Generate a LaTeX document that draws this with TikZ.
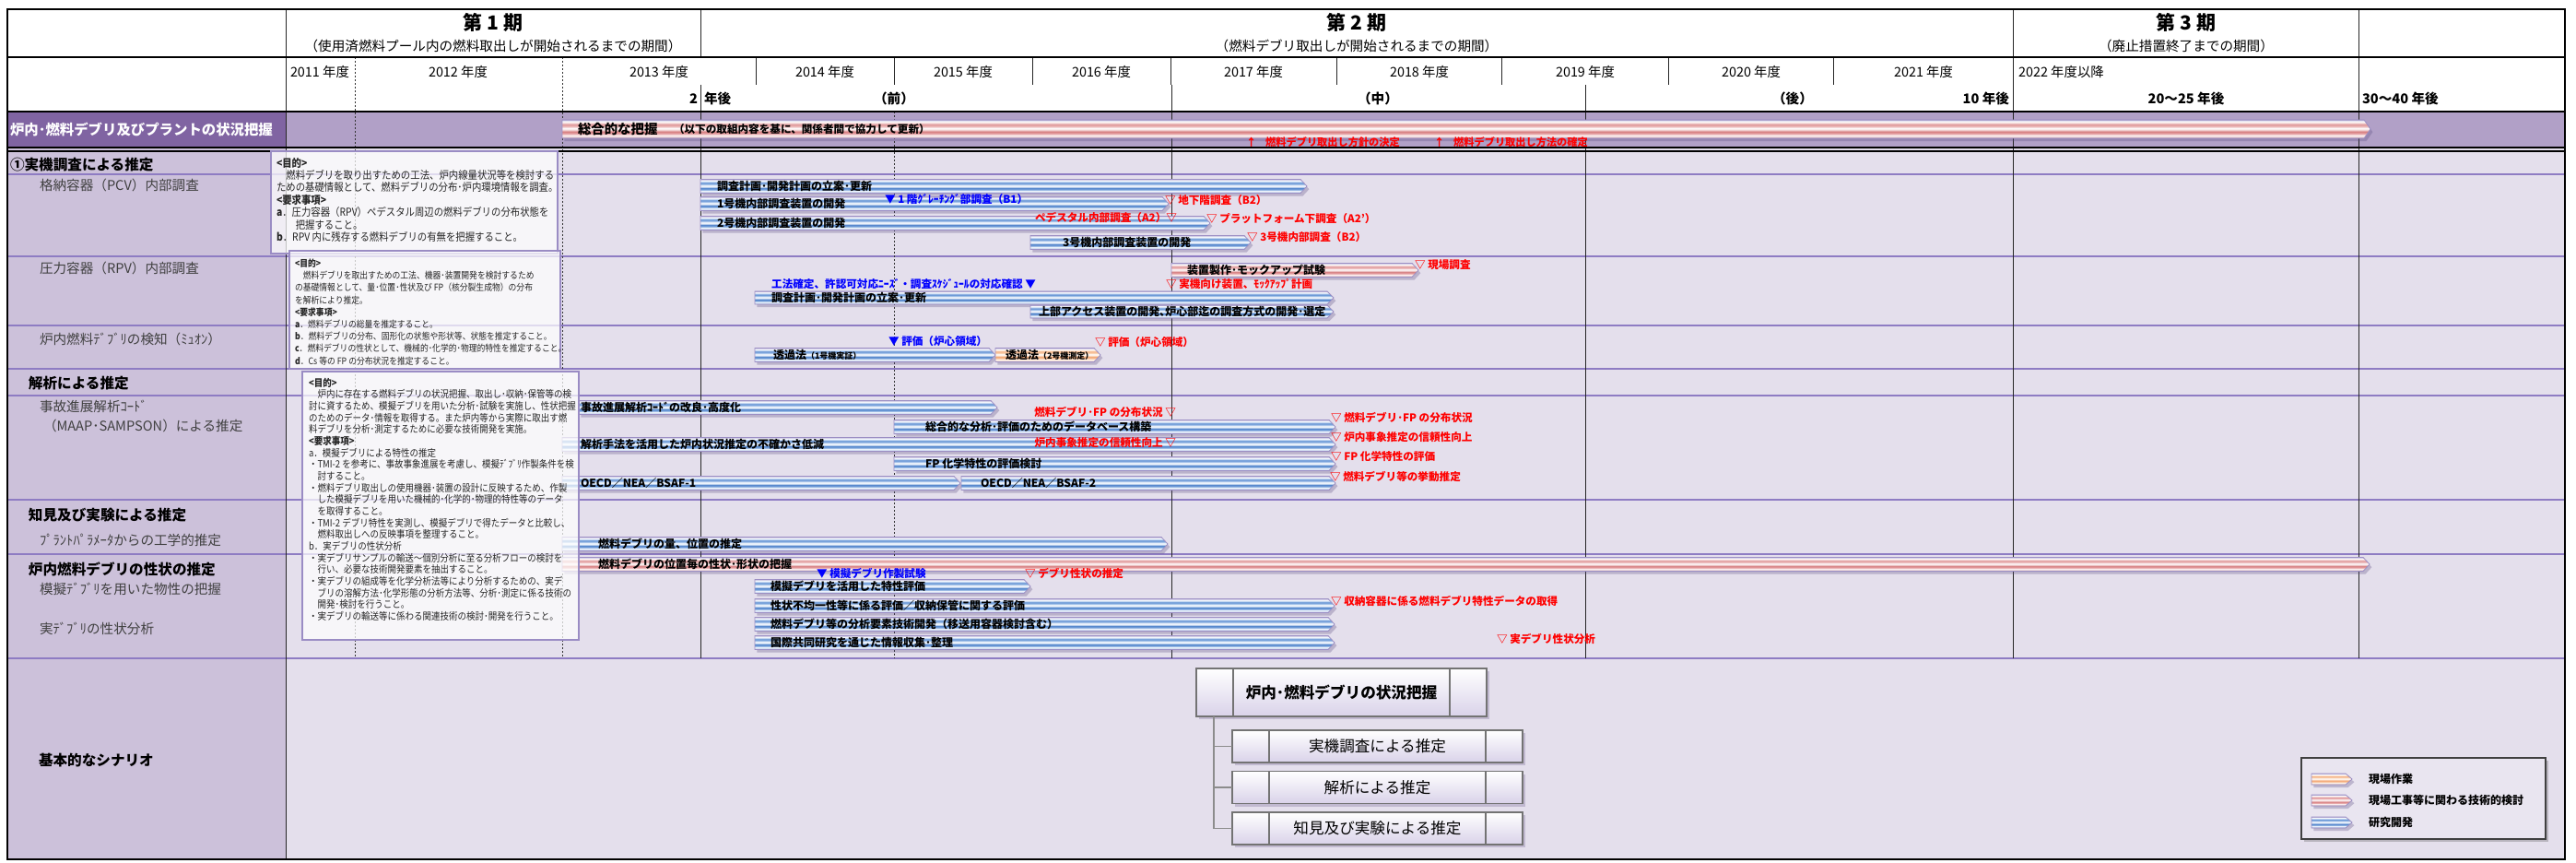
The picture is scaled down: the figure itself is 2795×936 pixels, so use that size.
\documentclass[tikz,border=0pt]{standalone}
\usepackage{fontspec}
\setmainfont{Noto Sans CJK JP}
\newfontfamily\cond{Noto Sans CJK JP}[FakeStretch=0.88]
\usetikzlibrary{shadows}

\definecolor{bandL}{HTML}{8064A2}
\definecolor{bandR}{HTML}{B1A0C7}
\definecolor{leftcol}{HTML}{CCC1DA}
\definecolor{bodybg}{HTML}{E4DFEC}
\definecolor{rowline}{HTML}{8E7CC3}
\definecolor{boxline}{HTML}{9A8CC4}
\definecolor{anred}{HTML}{FF0000}
\definecolor{anblue}{HTML}{0000FF}
\definecolor{barline}{HTML}{9C8FC4}
\definecolor{shadowc}{HTML}{5A4A80}
\definecolor{subgray}{HTML}{404040}
\definecolor{scbot}{HTML}{D9D2E9}
\definecolor{legbg}{HTML}{E9E5F0}
% blue
\definecolor{bA}{HTML}{8E86BE}
\definecolor{bB}{HTML}{BFCDEB}
\definecolor{bC}{HTML}{F4F8FD}
\definecolor{bD}{HTML}{7FA7DC}
\definecolor{bE}{HTML}{4F82CA}
\definecolor{bF}{HTML}{D7E4F6}
\definecolor{bG}{HTML}{FFFFFF}
\definecolor{bH}{HTML}{A2C0E8}
\definecolor{bI}{HTML}{5F90D3}
\definecolor{bJ}{HTML}{CADBF2}
\definecolor{bK}{HTML}{B5AED6}
% pink
\definecolor{pB}{HTML}{E9C9CC}
\definecolor{pC}{HTML}{FBF2F2}
\definecolor{pD}{HTML}{E6A2A4}
\definecolor{pE}{HTML}{D68082}
\definecolor{pF}{HTML}{F3D7D8}
\definecolor{pH}{HTML}{EDBDBE}
\definecolor{pI}{HTML}{DF9698}
\definecolor{pJ}{HTML}{F4DCDC}
% orange
\definecolor{oB}{HTML}{F2D6C6}
\definecolor{oC}{HTML}{FEF6F0}
\definecolor{oD}{HTML}{F7C29C}
\definecolor{oE}{HTML}{F2A674}
\definecolor{oF}{HTML}{FCE3D0}
\definecolor{oH}{HTML}{F8CFAF}
\definecolor{oI}{HTML}{F4B183}
\definecolor{oJ}{HTML}{FDE9DA}

\pgfdeclareverticalshading{bluebar}{100bp}{color(0bp)=(bA); color(25bp)=(bA); color(28bp)=(bB); color(33bp)=(bC); color(38bp)=(bD); color(43bp)=(bE); color(48bp)=(bF); color(52bp)=(bG); color(57bp)=(bH); color(62bp)=(bI); color(67bp)=(bJ); color(71bp)=(bG); color(75bp)=(bK); color(100bp)=(bK)}
\pgfdeclareverticalshading{pinkbar}{100bp}{color(0bp)=(bA); color(25bp)=(bA); color(28bp)=(pB); color(33bp)=(pC); color(38bp)=(pD); color(43bp)=(pE); color(48bp)=(pF); color(52bp)=(bG); color(57bp)=(pH); color(62bp)=(pI); color(67bp)=(pJ); color(71bp)=(bG); color(75bp)=(bK); color(100bp)=(bK)}
\pgfdeclareverticalshading{orangebar}{100bp}{color(0bp)=(bA); color(25bp)=(bA); color(28bp)=(oB); color(33bp)=(oC); color(38bp)=(oD); color(43bp)=(oE); color(48bp)=(oF); color(52bp)=(bG); color(57bp)=(oH); color(62bp)=(oI); color(67bp)=(oJ); color(71bp)=(bG); color(75bp)=(bK); color(100bp)=(bK)}

% #1 name, #2 shading, #3 x1, #4 x2, #5 y centre, #6 half height, #7 text x, #8 text
\newcommand\gbar[8]{%
  \shade[shading=#2, draw=barline, line width=0.4pt, bardrop] (#3,#5-#6) -- (#4-7,#5-#6) -- (#4,#5) -- (#4-7,#5+#6) -- (#3,#5+#6) -- cycle;
  \node[bartext] (#1) at (#7,#5) {#8};}

\begin{document}
\begin{tikzpicture}[x=0.5pt,y=-0.5pt,
  every node/.style={inner sep=0pt, outer sep=0pt},
  hdrT/.style={font=\fontsize{10.5}{12}\selectfont\bfseries},
  hdrS/.style={font=\fontsize{7.3}{9}\selectfont},
  yrT/.style={font=\fontsize{7.2}{9}\selectfont},
  r3T/.style={font=\fontsize{7.3}{9}\selectfont\bfseries},
  bandT/.style={anchor=west, text=white, font=\fontsize{7.7}{9}\selectfont\bfseries},
  headL/.style={anchor=west, font=\fontsize{7.8}{9}\selectfont\bfseries},
  subL/.style={anchor=west, text=subgray, font=\fontsize{7.3}{9}\selectfont},
  bartext/.style={anchor=west, font=\fontsize{6}{7}\selectfont\bfseries},
  anR/.style={anchor=west, text=anred, font=\fontsize{5.8}{7}\selectfont\bfseries},
  anB/.style={anchor=west, text=anblue, font=\fontsize{5.8}{7}\selectfont\bfseries},
  gridS/.style={line width=0.5pt, draw=black!85},
  dgridS/.style={line width=0.5pt, draw=black!80, dash pattern=on 1pt off 1pt},
  rowln/.style={line width=0.7pt, draw=rowline},
  infobox/.style={draw=boxline, line width=0.6pt, fill=white, fill opacity=0.72},
  infotext/.style={anchor=north west, align=left, text=black!85},
  bardrop/.style={drop shadow={shadow xshift=1.2pt, shadow yshift=-1.6pt, opacity=0.3, fill=shadowc}},
  scbox/.style={draw=black!55, line width=0.6pt, top color=white, bottom color=scbot, minimum width=157.5pt,
     drop shadow={shadow xshift=1.5pt, shadow yshift=-1.5pt, opacity=0.25, fill=shadowc}},
  scin/.style={draw=black!55, line width=0.6pt},
  treeln/.style={draw=black!45, line width=0.6pt},
  legT/.style={anchor=west, font=\fontsize{6}{7}\selectfont\bfseries},
]
\useasboundingbox (0,0) rectangle (2795,936);
% ---------- backgrounds
\fill[white] (0,0) rectangle (2795,936);
\fill[leftcol] (8,160) rectangle (310,932);
\fill[bodybg] (310,160) rectangle (2783,932);
\fill[bandL] (8,121) rectangle (310,160);
\fill[bandR] (310,121) rectangle (2783,160);
% ---------- row lines
\foreach \yy in {189,278,353,400,429,542,601,714} \draw[rowln] (8,\yy) -- (2783,\yy);
% ---------- vertical lines
\draw[gridS] (310,10) -- (310,932);
\draw[gridS] (760,10) -- (760,62);
\draw[gridS] (760,92) -- (760,714);
\draw[gridS] (2184,10) -- (2184,714);
\draw[gridS] (2559,10) -- (2559,714);
\foreach \xx in {820,970,1120,1270,1450,1629,1810,1989} \draw[gridS] (\xx,62) -- (\xx,92);
\draw[gridS] (1271,92) -- (1271,714);
\draw[gridS] (1720,92) -- (1720,714);
\draw[dgridS] (385,62) -- (385,714);
\draw[dgridS] (610,62) -- (610,714);
\draw[dgridS] (970,121) -- (970,714);
% ---------- header borders
\draw[line width=0.9pt] (8,10) rectangle (2783,932);
\draw[line width=0.9pt] (8,62) -- (2783,62);
\draw[line width=1pt] (8,121) -- (2783,121);
\draw[line width=0.7pt] (8,160) -- (2783,160);
\draw[line width=0.7pt] (8,164) -- (2783,164);

% ---------- header texts
\node[hdrT] (p1) at (535,24) {第 1 期};
\node[hdrS] (p1s) at (535,50) {（使用済燃料プール内の燃料取出しが開始されるまでの期間）};
\node[hdrT] (p2) at (1472,24) {第 2 期};
\node[hdrS] (p2s) at (1472,50) {（燃料デブリ取出しが開始されるまでの期間）};
\node[hdrT] (p3) at (2372,24) {第 3 期};
\node[hdrS] (p3s) at (2372,50) {（廃止措置終了までの期間）};
\node[yrT] (y11) at (347,78) {2011 年度};
\node[yrT] (y12) at (497,78) {2012 年度};
\node[yrT] (y13) at (715,78) {2013 年度};
\node[yrT] (y14) at (895,78) {2014 年度};
\node[yrT] (y15) at (1045,78) {2015 年度};
\node[yrT] (y16) at (1195,78) {2016 年度};
\node[yrT] (y17) at (1360,78) {2017 年度};
\node[yrT] (y18) at (1540,78) {2018 年度};
\node[yrT] (y19) at (1720,78) {2019 年度};
\node[yrT] (y20) at (1900,78) {2020 年度};
\node[yrT] (y21) at (2087,78) {2021 年度};
\node[yrT, anchor=west] (y22) at (2190,78) {2022 年度以降};
\node[r3T, anchor=east] (r2a) at (757,107) {2};
\node[r3T, anchor=west] (r2b) at (764,107) {年後};
\node[r3T] (rmae) at (970,107) {（前）};
\node[r3T] (rnaka) at (1495,107) {（中）};
\node[r3T] (rato) at (1945,107) {（後）};
\node[r3T, anchor=east] (r10) at (2180,107) {10 年後};
\node[r3T] (r20) at (2372,107) {20～25 年後};
\node[r3T, anchor=west] (r30) at (2563,107) {30～40 年後};

% ---------- band
\node[bandT] (bandlbl) at (11,141) {炉内･燃料デブリ及びプラントの状況把握};
\gbar{topbar}{pinkbar}{610}{2572}{140}{10}{627}{{\fontsize{7.2}{8}\selectfont 総合的な把握}}
\node[bartext, font=\fontsize{5.8}{7}\selectfont\bfseries] (topsub) at (731,140) {（以下の取組内容を基に、関係者間で協力して更新）};
\node[anR, font=\fontsize{5.6}{7}\selectfont\bfseries] (dec1) at (1352,154) {↑\hspace{5pt}燃料デブリ取出し方針の決定};
\node[anR, font=\fontsize{5.6}{7}\selectfont\bfseries] (dec2) at (1556,154) {↑\hspace{5pt}燃料デブリ取出し方法の確定};

% ---------- bars
\gbar{b1}{bluebar}{760}{1418}{202}{7.5}{778}{調査計画･開発計画の立案･更新}
\gbar{b2}{bluebar}{760}{1268}{221}{7.5}{778}{1号機内部調査装置の開発}
\gbar{b3}{bluebar}{760}{1313}{242}{7.5}{778}{2号機内部調査装置の開発}
\gbar{b4}{bluebar}{1118}{1357}{263}{7.5}{1153}{3号機内部調査装置の開発}
\gbar{b5}{pinkbar}{1271}{1539}{293}{7.5}{1288}{装置製作･モックアップ試験}
\gbar{b6}{bluebar}{819}{1447}{323}{7}{837}{調査計画･開発計画の立案･更新}
\gbar{b7}{bluebar}{1118}{1447}{338}{7}{1127}{上部アクセス装置の開発､炉心部迄の調査方式の開発･選定}
\gbar{b8}{bluebar}{819}{1080}{385}{7.5}{839}{透過法{\fontsize{4.5}{5}\selectfont（1号機実証）}}
\gbar{b9}{orangebar}{1080}{1194}{385}{7.5}{1091}{透過法{\fontsize{4.5}{5}\selectfont（2号機測定）}}
\gbar{b10}{bluebar}{628}{1082}{442}{7.5}{630}{事故進展解析ｺｰﾄﾞの改良･高度化}
\gbar{b11}{bluebar}{970}{1449}{463}{7.5}{1004}{総合的な分析･評価のためのデータベース構築}
\gbar{b12}{bluebar}{610}{1449}{482}{7.5}{630}{解析手法を活用した炉内状況推定の不確かさ低減}
\gbar{b13}{bluebar}{970}{1449}{503}{7.5}{1004}{FP 化学特性の評価検討}
\gbar{b14}{bluebar}{610}{1042}{524}{7.5}{630}{OECD／NEA／BSAF-1}
\gbar{b15}{bluebar}{1043}{1449}{524}{7.5}{1064}{OECD／NEA／BSAF-2}
\gbar{b16}{bluebar}{610}{1267}{590}{7.5}{649}{燃料デブリの量、位置の推定}
\gbar{b17}{pinkbar}{610}{2571}{612}{7.5}{649}{燃料デブリの位置毎の性状･形状の把握}
\gbar{b18}{bluebar}{819}{1118}{636}{7.5}{836}{模擬デブリを活用した特性評価}
\gbar{b19}{bluebar}{819}{1448}{657}{7.5}{836}{性状不均一性等に係る評価／収納保管に関する評価}
\gbar{b20}{bluebar}{819}{1448}{677}{7.5}{836}{燃料デブリ等の分析要素技術開発（移送用容器検討含む）}
\gbar{b21}{bluebar}{819}{1448}{697}{7.5}{836}{国際共同研究を通じた情報収集･整理}

% ---------- info boxes
\path[infobox] (294,164) rectangle (605,275);
\node[infotext, font=\cond\fontsize{5.9}{6.7}\selectfont] (info1) at (300,171) {%
{\bfseries <目的>}\\
　燃料デブリを取り出すための工法、炉内線量状況等を検討する\\
ための基礎情報として、燃料デブリの分布･炉内環境情報を調査。\\
{\bfseries <要求事項>}\\
{\bfseries a}．圧力容器（RPV）ペデスタル周辺の燃料デブリの分布状態を\\
　　把握すること。\\
{\bfseries b}．RPV 内に残存する燃料デブリの有無を把握すること。};
\path[infobox] (314,272) rectangle (608,400);
\node[infotext, font=\cond\fontsize{5.0}{6.6}\selectfont] (info2) at (320,281) {%
{\bfseries <目的>}\\
　燃料デブリを取出すための工法、機器･装置開発を検討するため\\
の基礎情報として、量･位置･性状及び FP（核分裂生成物）の分布\\
を解析により推定。\\
{\bfseries <要求事項>}\\
{\bfseries a}．燃料デブリの総量を推定すること。\\
{\bfseries b}．燃料デブリの分布、固形化の状態や形状等、状態を推定すること。\\
{\bfseries c}．燃料デブリの性状として、機械的･化学的･物理的特性を推定すること。\\
{\bfseries d}．Cs 等の FP の分布状況を推定すること。};
\path[infobox] (328,403) rectangle (628,694);
\node[infotext, font=\cond\fontsize{5.4}{6.33}\selectfont] (info3) at (335,410) {%
{\bfseries <目的>}\\
　炉内に存在する燃料デブリの状況把握、取出し･収納･保管等の検\\
討に資するため、模擬デブリを用いた分析･試験を実施し、性状把握\\
のためのデータ･情報を取得する。また炉内等から実際に取出す燃\\
料デブリを分析･測定するために必要な技術開発を実施。\\
{\bfseries <要求事項>}\\
a．模擬デブリによる特性の推定\\
・TMI-2 を参考に、事故事象進展を考慮し、模擬ﾃﾞﾌﾞﾘ作製条件を検\\
　討すること。\\
・燃料デブリ取出しの使用機器･装置の設計に反映するため、作製\\
　した模擬デブリを用いた機械的･化学的･物理的特性等のデータ\\
　を取得すること。\\
・TMI-2 デブリ特性を実測し、模擬デブリで得たデータと比較し、\\
　燃料取出しへの反映事項を整理すること。\\
b．実デブリの性状分析\\
・実デブリサンプルの輸送～個別分析に至る分析フローの検討を\\
　行い、必要な技術開発要素を抽出すること。\\
・実デブリの組成等を化学分析法等により分析するための、実デ\\
　ブリの溶解方法･化学形態の分析方法等、分析･測定に係る技術の\\
　開発･検討を行うこと。\\
・実デブリの輸送等に係わる関連技術の検討･開発を行うこと。};

% ---------- annotations
\node[anB] (m1) at (960,216) {▼ 1 階ｸﾞﾚｰﾁﾝｸﾞ部調査（B1）};
\node[anR] (m2) at (1264,217) {▽ 地下階調査（B2）};
\node[anR, anchor=east] (m3) at (1277,236) {ペデスタル内部調査（A2）▽};
\node[anR] (m4) at (1309,237) {▽ プラットフォーム下調査（A2'）};
\node[anR] (m5) at (1353,257) {▽ 3号機内部調査（B2）};
\node[anR] (m6) at (1535,287) {▽ 現場調査};
\node[anR] (m7) at (1265,308) {▽ 実機向け装置、ﾓｯｸｱｯﾌﾟ計画};
\node[anB, anchor=east] (m8) at (1124,308) {工法確定、許認可対応ﾆｰｽﾞ・調査ｽｹｼﾞｭｰﾙの対応確認 ▼};
\node[anB] (m9) at (964,370) {▼ 評価（炉心領域）};
\node[anR] (m10) at (1188,371) {▽ 評価（炉心領域）};
\node[anR, anchor=east] (m11) at (1276,447) {燃料デブリ･FP の分布状況 ▽};
\node[anR] (m12) at (1444,453) {▽ 燃料デブリ･FP の分布状況};
\node[anR, anchor=east] (m13) at (1276,480) {炉内事象推定の信頼性向上 ▽};
\node[anR] (m14) at (1444,474) {▽ 炉内事象推定の信頼性向上};
\node[anR] (m15) at (1444,495) {▽ FP 化学特性の評価};
\node[anR] (m16) at (1443,517) {▽ 燃料デブリ等の挙動推定};
\node[anB] (m17) at (886,622) {▼ 模擬デブリ作製試験};
\node[anR] (m18) at (1112,622) {▽ デブリ性状の推定};
\node[anR] (m19) at (1444,652) {▽ 収納容器に係る燃料デブリ特性データの取得};
\node[anR] (m20) at (1624,693) {▽ 実デブリ性状分析};

% ---------- left column labels
\node[headL] (h1) at (11,179) {①実機調査による推定};
\node[subL] (s1) at (43,201) {格納容器（PCV）内部調査};
\node[subL] (s2) at (43,291) {圧力容器（RPV）内部調査};
\node[subL] (s3) at (43,368) {炉内燃料ﾃﾞﾌﾞﾘの検知（ﾐｭｵﾝ）};
\node[headL] (h2) at (31,416) {解析による推定};
\node[subL] (s4) at (43,441) {事故進展解析ｺｰﾄﾞ};
\node[subL] (s5) at (47,462) {（MAAP･SAMPSON）による推定};
\node[headL] (h3) at (31,559) {知見及び実験による推定};
\node[subL] (s6) at (43,586) {ﾌﾟﾗﾝﾄﾊﾟﾗﾒｰﾀからの工学的推定};
\node[headL] (h4) at (31,617) {炉内燃料デブリの性状の推定};
\node[subL] (s7) at (43,639) {模擬ﾃﾞﾌﾞﾘを用いた物性の把握};
\node[subL] (s8) at (43,682) {実ﾃﾞﾌﾞﾘの性状分析};
\node[headL] (h5) at (42,825) {基本的なシナリオ};

% ---------- scenario tree
\node[scbox, minimum height=26pt, font=\fontsize{8.3}{10}\selectfont\bfseries] (sc0) at (1455.5,751) {炉内･燃料デブリの状況把握};
\node[scbox, minimum height=17.5pt, font=\fontsize{8.3}{10}\selectfont] (sc1) at (1494.5,809.5) {実機調査による推定};
\node[scbox, minimum height=17.5pt, font=\fontsize{8.3}{10}\selectfont] (sc2) at (1494.5,854) {解析による推定};
\node[scbox, minimum height=17.5pt, font=\fontsize{8.3}{10}\selectfont] (sc3) at (1494.5,898.5) {知見及び実験による推定};
\foreach \n in {sc0,sc1,sc2,sc3}{
  \draw[scin] ([xshift=20pt]\n.north west) -- ([xshift=20pt]\n.south west);
  \draw[scin] ([xshift=-20pt]\n.north east) -- ([xshift=-20pt]\n.south east);
}
\coordinate (trunk) at ([xshift=9.5pt]sc0.south west);
\draw[treeln] (trunk) |- (sc1.west);
\draw[treeln] (trunk) |- (sc2.west);
\draw[treeln] (trunk) |- (sc3.west);

% ---------- legend
\path[draw=black!75, line width=0.6pt, fill=legbg, drop shadow={shadow xshift=1.5pt, shadow yshift=-1.5pt, opacity=0.35, fill=black!60}] (2497,822) rectangle (2762,910);
\gbar{lg1}{orangebar}{2508}{2552}{845}{6}{2508}{}
\gbar{lg2}{pinkbar}{2508}{2552}{868}{6}{2508}{}
\gbar{lg3}{bluebar}{2508}{2552}{892}{6}{2508}{}
\node[legT] (lt1) at (2570,845) {現場作業};
\node[legT] (lt2) at (2570,868) {現場工事等に関わる技術的検討};
\node[legT] (lt3) at (2570,892) {研究開発};
\end{tikzpicture}
\end{document}
